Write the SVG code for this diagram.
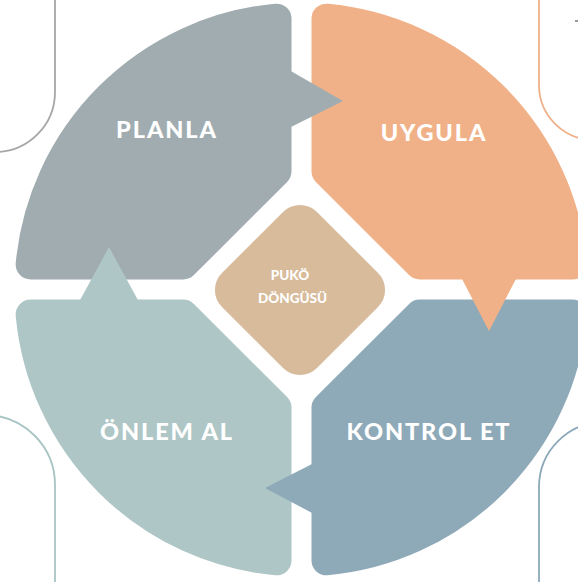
<svg xmlns="http://www.w3.org/2000/svg" xmlns:xlink="http://www.w3.org/1999/xlink" width="578" height="582" viewBox="0 0 578 582">
<style>
.q{stroke-width:30;stroke-linejoin:round}
.lbl{font-family:Lato,"Noto Sans","DejaVu Sans",sans-serif;font-weight:900;fill:#ffffff;text-anchor:middle}
.big{font-size:23.5px;letter-spacing:1.9px}
.small{font-size:13.5px;letter-spacing:0px}
.deco{fill:none;stroke-width:1.8}
</style>
<defs>
<path id="quad" d="M -270.85 -25 A 272 272 0 0 1 -25 -270.85 L -25 -118.2 L -118.2 -25 Z"/>
</defs>
<rect width="578" height="582" fill="#ffffff"/>
<g id="decor">
<path class="deco" stroke="#a6a6a6" d="M 55 -2 V 92 A 60 60 0 0 1 -5 152"/>
<path class="deco" stroke="#f0b088" d="M 539 -2 V 85 A 55 55 0 0 0 594 140"/>
<path class="deco" stroke="#a9c4c4" d="M -15 415 A 70 70 0 0 1 55 485 V 584"/>
<path class="deco" stroke="#8aa8b8" d="M 604 422 A 65 65 0 0 0 539 487 V 584"/>
<path d="M 575 21 H 578" stroke="#555555" stroke-width="1.2"/>
</g>
<g id="planla">
<use xlink:href="#quad" class="q" fill="#a0acb0" stroke="#a0acb0" transform="translate(301.5,289.5)"/>
<text class="lbl big" x="167" y="138">PLANLA</text>
</g>
<g id="uygula">
<use xlink:href="#quad" class="q" fill="#f1b188" stroke="#f1b188" transform="translate(301.5,289.5) scale(-1,1)"/>
<text class="lbl big" x="434" y="141">UYGULA</text>
</g>
<g id="kontrol-et">
<use xlink:href="#quad" class="q" fill="#8eaab8" stroke="#8eaab8" transform="translate(301.5,289.5) scale(-1,-1)"/>
<text class="lbl big" x="429" y="440">KONTROL ET</text>
</g>
<g id="onlem-al">
<use xlink:href="#quad" class="q" fill="#aec6c6" stroke="#aec6c6" transform="translate(301.5,289.5) scale(1,-1)"/>
<text class="lbl big" x="167" y="440">ÖNLEM AL</text>
</g>
<g id="puko">
<rect x="-67.2" y="-67.2" width="134.4" height="134.4" rx="24" fill="#d7bb9b" transform="translate(300,290) rotate(45)"/>
<text class="lbl small" x="290" y="280">PUKÖ</text>
<text class="lbl small" x="292.5" y="303">DÖNGÜSÜ</text>
</g>
<g id="connectors">
<polygon points="289,70 343,101 289,128" fill="#a0acb0"/>
<polygon points="461,277 517,277 489,331" fill="#f1b188"/>
<polygon points="314,463 314,514 265,488" fill="#8eaab8"/>
<polygon points="79,302 139,302 109,247" fill="#aec6c6"/>
</g>
</svg>
